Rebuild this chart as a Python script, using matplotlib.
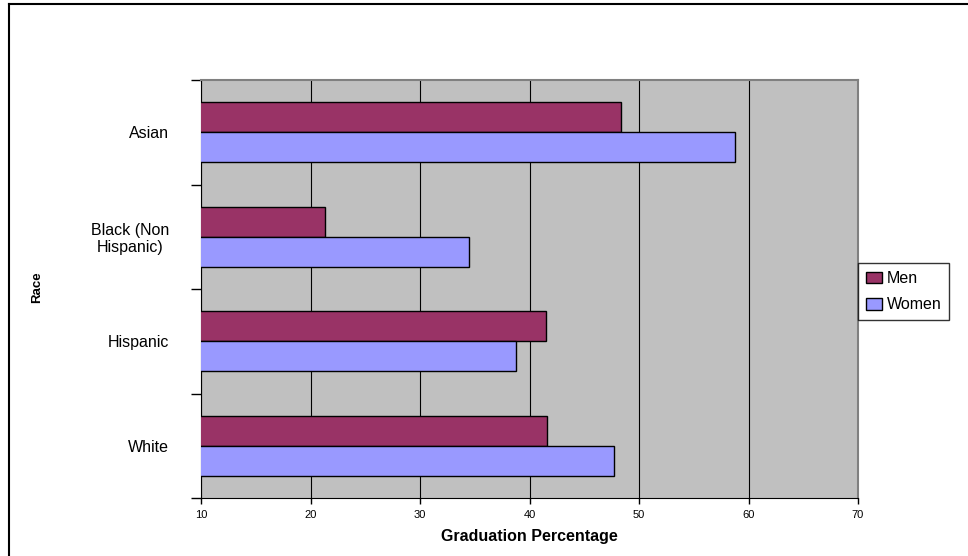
import matplotlib.pyplot as plt
import numpy as np
from matplotlib.lines import Line2D

races = ['Asian', 'Black (Non\nHispanic)', 'Hispanic', 'White']
men = [48.4, 21.3, 41.5, 41.6]
women = [58.8, 34.5, 38.8, 47.7]
x_ticks = [10, 20, 30, 40, 50, 60, 70]

plt.rcParams['font.family'] = ['Liberation Sans', 'DejaVu Sans']

fig = plt.figure(figsize=(9.68, 5.56), dpi=100)
ax = fig.add_axes([201 / 968, 1 - 498 / 556, 657 / 968, 418 / 556])
ax.set_facecolor('#C0C0C0')

y = np.arange(len(races))
h = 0.285
ax.barh(y - h / 2, men, height=h, left=0, color='#993366', edgecolor='black',
        linewidth=1, label='Men', zorder=3)
ax.barh(y + h / 2, women, height=h, left=0, color='#9999FF', edgecolor='black',
        linewidth=1, label='Women', zorder=3)

ax.set_xlim(10, 70)
ax.set_ylim(len(races) - 0.5, -0.5)
ax.set_xticks(x_ticks)
ax.set_xticklabels([str(t) for t in x_ticks], fontsize=8)
ax.tick_params(axis='x', direction='out', length=4, width=1, pad=5)

# category boundaries carry the tick marks, labels sit at the centres
ax.set_yticks(np.arange(-0.5, len(races)), labels=[''] * (len(races) + 1))
ax.set_yticks(y, labels=races, minor=True)
ax.tick_params(axis='y', which='major', direction='out', length=7, width=1)
ax.tick_params(axis='y', which='minor', length=0, pad=23, labelsize=11.5)
for lbl in ax.get_yticklabels(minor=True):
    lbl.set_multialignment('center')
    lbl.set_linespacing(1.15)

ax.xaxis.grid(True, color='black', linewidth=0.8, zorder=1)
ax.set_axisbelow(True)
for side in ['top', 'right']:
    ax.spines[side].set_color('#808080')
    ax.spines[side].set_linewidth(1.5)
for side in ['bottom', 'left']:
    ax.spines[side].set_color('black')

ax.set_xlabel('Graduation Percentage', fontsize=11.5, fontweight='bold', labelpad=6)
ax.set_ylabel('Race', fontsize=9.5, fontweight='bold', labelpad=0)
ax.yaxis.set_label_coords(-0.2405, 0.505)

leg = ax.legend(loc='upper left', bbox_to_anchor=(1.0, 0.562), frameon=True,
                fancybox=False, edgecolor='black', fontsize=11.5,
                handlelength=1.0, handleheight=0.75, handletextpad=0.3,
                borderpad=0.5, labelspacing=0.7, borderaxespad=0)
leg.get_frame().set_linewidth(1)

# outer chart frame (left and top edges visible)
fig.add_artist(Line2D([9 / 968, 9 / 968], [0, 1 - 4 / 556], color='black', linewidth=1.5))
fig.add_artist(Line2D([9 / 968, 1], [1 - 4 / 556, 1 - 4 / 556], color='black', linewidth=1.5))

fig.savefig('out.png', dpi=100)
